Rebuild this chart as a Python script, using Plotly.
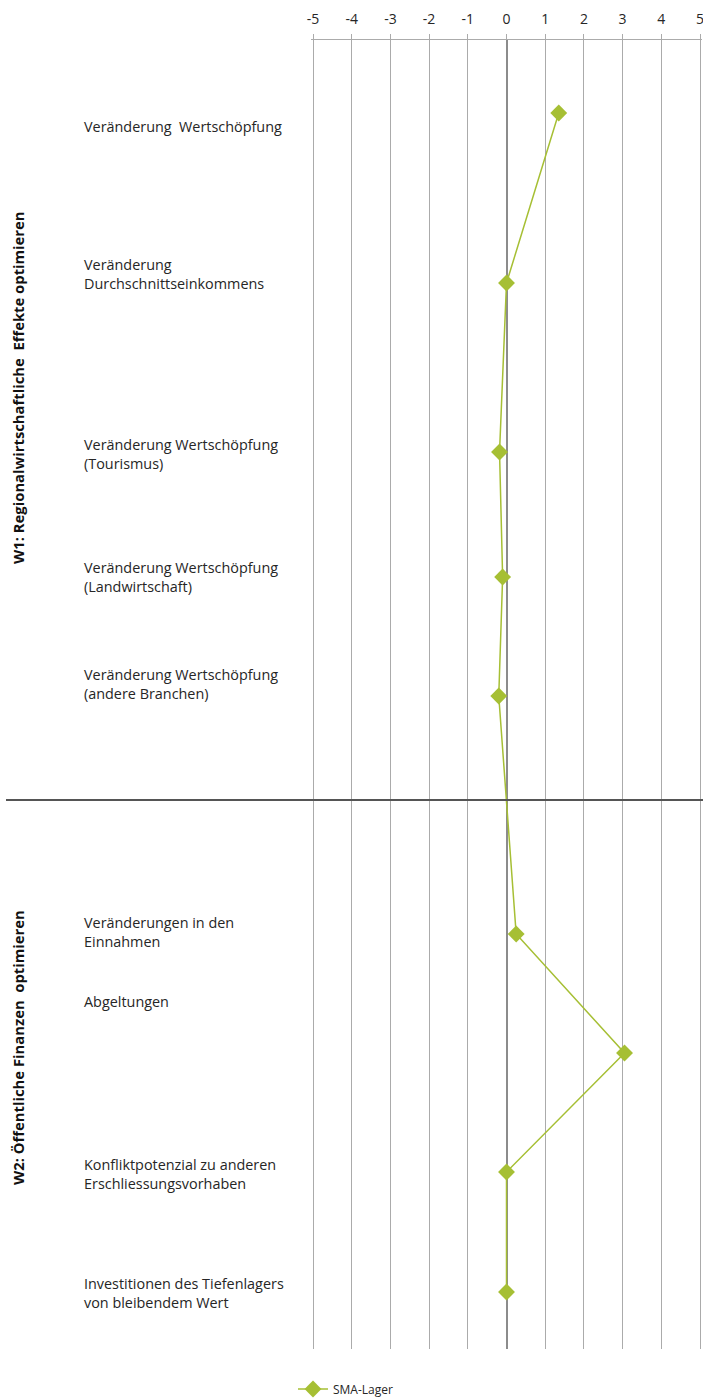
import plotly.graph_objects as go

# ---- data ----
NB = "\u00a0"
indicator_labels = [
    "Veränderung" + NB + " Wertschöpfung",
    "Veränderung<br>Durchschnittseinkommens",
    "Veränderung Wertschöpfung<br>(Tourismus)",
    "Veränderung Wertschöpfung<br>(Landwirtschaft)",
    "Veränderung Wertschöpfung<br>(andere Branchen)",
    "Veränderungen in den<br>Einnahmen",
    "Abgeltungen",
    "Konfliktpotenzial zu anderen<br>Erschliessungsvorhaben",
    "Investitionen des Tiefenlagers<br>von bleibendem Wert",
]
sma_values = [1.35, 0.0, -0.18, -0.1, -0.2, 0.25, 3.05, 0.0, 0.0]
row_y = [73, 243, 412, 537, 656, 894, 1013, 1132, 1252]  # vertical row position (axis units)
group_labels = ["W1: Regionalwirtschaftliche" + NB + " Effekte optimieren",
                "W2: Öffentliche Finanzen" + NB + " optimieren"]
series_name = "SMA-Lager"
x_ticks = list(range(-5, 6))

# ---- layout constants ----
W, H = 703, 1398
ML, MR, MT, MB = 311, 1, 40, 49
PW = W - ML - MR
PH = H - MT - MB
X_HALF = 5 * PW / 387.0  # keeps -5..5 on 313..700 px while leaving room for edge gridlines
label_y = [86, 233.5, 413.5, 536.5, 643.5, 891.5, 961, 1133.5, 1252.5]
group_y = [348, 1008]
divider_y = 760

def px_to_paper_x(px):
    return (px - ML) / PW

green = "#A6BF34"
text_color = "#262626"
font_family = "Open Sans, Noto Sans, sans-serif"

fig = go.Figure()
fig.add_trace(go.Scatter(
    x=sma_values, y=row_y, mode="lines+markers", name=series_name,
    line=dict(color=green, width=1.5),
    marker=dict(symbol="diamond", size=13, color=green),
))

annotations = []
for t, yy in zip(indicator_labels, label_y):
    annotations.append(dict(
        x=px_to_paper_x(82), xref="paper", y=yy, yref="y",
        text=t, showarrow=False, xanchor="left", yanchor="middle", align="left",
        font=dict(family=font_family, size=14.4, color=text_color),
    ))
for t, yy in zip(group_labels, group_y):
    annotations.append(dict(
        x=px_to_paper_x(18), xref="paper", y=yy, yref="y",
        text="<b>" + t + "</b>", showarrow=False, textangle=-90,
        xanchor="center", yanchor="middle",
        font=dict(family=font_family, size=14.8, color="#111111"),
    ))

shapes = [dict(
    type="line", xref="paper", yref="y",
    x0=px_to_paper_x(6), x1=px_to_paper_x(703), y0=divider_y, y1=divider_y,
    line=dict(color="#555555", width=2), layer="above",
)]

fig.update_layout(
    width=W, height=H,
    margin=dict(l=ML, r=MR, t=MT, b=MB, autoexpand=False),
    paper_bgcolor="white", plot_bgcolor="white",
    font=dict(family=font_family, color=text_color),
    xaxis=dict(
        side="top", range=[-X_HALF, X_HALF], tickvals=x_ticks, ticktext=[str(v) for v in x_ticks],
        showgrid=True, gridcolor="#ABABAB", gridwidth=1,
        zeroline=True, zerolinecolor="#8C8C8C", zerolinewidth=1.5,
        showline=True, linecolor="#ABABAB", linewidth=1, mirror=False,
        ticks="outside", ticklen=5, tickcolor="#ABABAB",
        ticklabelstandoff=4, ticklabeloverflow="allow",
        tickfont=dict(family=font_family, size=14, color=text_color),
        fixedrange=True,
    ),
    yaxis=dict(
        range=[PH, 0], showgrid=False, zeroline=False, showline=False,
        showticklabels=False, ticks="", fixedrange=True,
    ),
    showlegend=True,
    legend=dict(
        orientation="h", x=px_to_paper_x(293), xanchor="left",
        y=-40 / PH, yanchor="middle",
        font=dict(family=font_family, size=12, color=text_color),
        bgcolor="rgba(0,0,0,0)",
    ),
    annotations=annotations,
    shapes=shapes,
)

fig.write_html("out.html", config={"displayModeBar": False},
               post_script="document.body.style.margin='0';document.body.style.overflow='hidden';")
